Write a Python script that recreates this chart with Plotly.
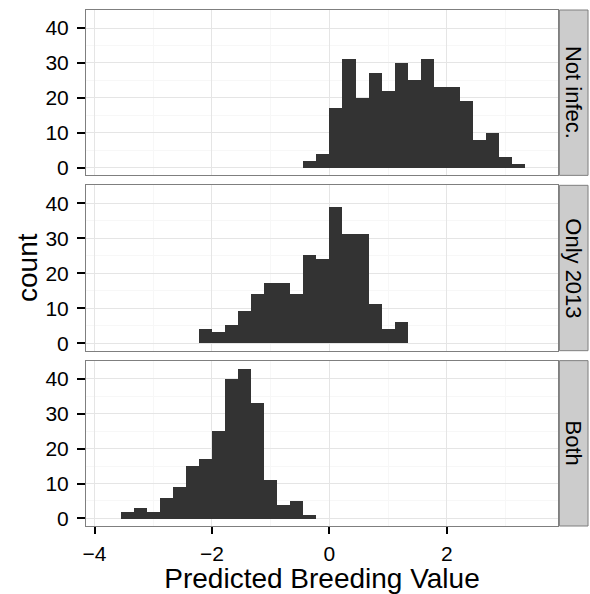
import plotly.graph_objects as go
from plotly.subplots import make_subplots

# Histogram bins shared by all facets
BIN_ORIGIN = -3.556
BIN_WIDTH = 0.2223

facets = ["Not infec.", "Only 2013", "Both"]
# index of the first bin drawn in each facet
first_bin = {"Not infec.": 14, "Only 2013": 6, "Both": 0}
counts = {
    "Not infec.": [2, 4, 17, 31, 20, 27, 22, 30, 25, 31, 23, 23, 19, 8, 10, 3, 1],
    "Only 2013": [4, 3, 5, 9, 14, 17, 17, 14, 25, 24, 39, 31, 31, 11, 4, 6],
    "Both": [2, 3, 2, 6, 9, 15, 17, 25, 40, 43, 33, 11, 4, 5, 1],
}
x_ticks = [-4, -2, 0, 2]
y_ticks = [0, 10, 20, 30, 40]

FONT = "Liberation Sans"
GREY50 = "#7f7f7f"
TICK_SIZE = 21
STRIP_SIZE = 22
TITLE_SIZE = 28
fig = make_subplots(rows=3, cols=1, shared_xaxes=True, vertical_spacing=0.0193)

for i, name in enumerate(facets, start=1):
    c = counts[name]
    centers = [BIN_ORIGIN + BIN_WIDTH * (first_bin[name] + k + 0.5) for k in range(len(c))]
    fig.add_trace(
        go.Bar(x=centers, y=c, width=BIN_WIDTH, marker=dict(color="#333333", line=dict(width=0)),
               showlegend=False, hoverinfo="skip"),
        row=i, col=1,
    )
    fig.update_yaxes(
        range=[-2.15, 45.15], tickvals=y_ticks, ticks="outside", ticklen=8, tickwidth=2,
        tickcolor="black", showgrid=True, gridcolor="#e5e5e5", gridwidth=1,
        minor=dict(tickvals=[5, 15, 25, 35], showgrid=True, gridcolor="#f7f7f7", ticks=""),
        zeroline=False, showline=True, mirror=True, linecolor=GREY50, linewidth=1,
        tickfont=dict(family=FONT, size=TICK_SIZE, color="black"), ticklabelstandoff=4,
        automargin=False, row=i, col=1,
    )
    fig.update_xaxes(
        range=[-4.145, 3.894], tickvals=x_ticks, showgrid=True, gridcolor="#e5e5e5",
        minor=dict(tickvals=[-3, -1, 1, 3], showgrid=True, gridcolor="#f7f7f7", ticks=""),
        zeroline=False, showline=True, mirror=True, linecolor=GREY50, linewidth=1,
        ticks="outside" if i == 3 else "", ticklen=7, tickwidth=2, tickcolor="black",
        showticklabels=(i == 3), tickfont=dict(family=FONT, size=TICK_SIZE, color="black"),
        ticklabelstandoff=2, automargin=False,
        row=i, col=1,
    )
    # facet strip on the right
    yd = fig.layout[f"yaxis{'' if i == 1 else i}"].domain
    fig.add_shape(type="rect", xref="paper", yref="paper", x0=1.003, x1=1.0636,
                  y0=yd[0], y1=yd[1], fillcolor="#cccccc", line=dict(color=GREY50, width=1),
                  layer="below")
    fig.add_annotation(xref="paper", yref="paper", x=(1.003 + 1.0636) / 2, y=(yd[0] + yd[1]) / 2,
                       xanchor="center", yanchor="middle",
                       text=name, textangle=90, showarrow=False,
                       font=dict(family=FONT, size=STRIP_SIZE, color="black"))

fig.update_xaxes(title=dict(text="Predicted Breeding Value",
                            font=dict(family=FONT, size=TITLE_SIZE, color="black"),
                            standoff=4), row=3, col=1)
fig.add_annotation(xref="paper", yref="paper", x=-0.125, y=0.5, xanchor="center", yanchor="middle",
                   text="count", textangle=-90, showarrow=False,
                   font=dict(family=FONT, size=TITLE_SIZE, color="black"))

fig.update_layout(
    width=590, height=594, margin=dict(l=86, r=32, t=10, b=68),
    paper_bgcolor="white", plot_bgcolor="white", bargap=0,
)
fig.write_html("out.html")
